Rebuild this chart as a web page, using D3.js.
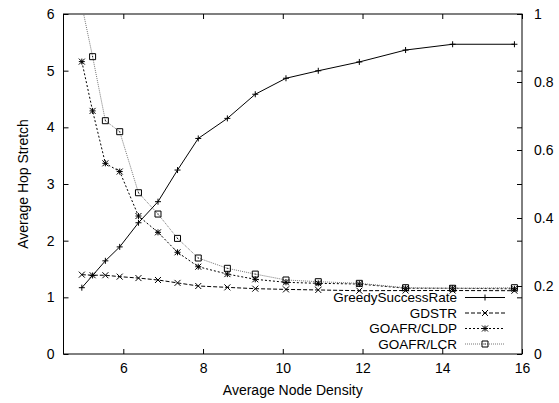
<!DOCTYPE html>
<html>
<head>
<meta charset="utf-8">
<script src="https://cdn.jsdelivr.net/npm/d3@7"></script>
<style>
  body { margin: 0; background: #fff; }
  text { font-family: "Liberation Sans", Arial, sans-serif; font-size: 14px; fill: #000; }
  #legend text { font-size: 13.5px; }
</style>
</head>
<body>
<script>
// node density on the x axis, shared by all series
const density = [4.96, 5.23, 5.55, 5.91, 6.38, 6.87, 7.36, 7.88, 8.61, 9.31, 10.08, 10.89, 11.92, 13.08, 14.26, 15.81];

// right axis (0..1)
const greedySuccessRate = [0.195, 0.231, 0.274, 0.315, 0.386, 0.448, 0.541, 0.634, 0.693, 0.764, 0.811, 0.833, 0.859, 0.894, 0.911, 0.911];

// left axis (hop stretch)
const gdstr = [1.40, 1.39, 1.39, 1.365, 1.34, 1.306, 1.255, 1.20, 1.176, 1.153, 1.14, 1.13, 1.117, 1.12, 1.12, 1.117];
const goafrCldp = [5.16, 4.29, 3.365, 3.22, 2.435, 2.147, 1.795, 1.54, 1.41, 1.318, 1.265, 1.247, 1.235, 1.16, 1.16, 1.15];
const goafrLcr = [6.15, 5.247, 4.117, 3.923, 2.846, 2.47, 2.04, 1.694, 1.512, 1.41, 1.306, 1.276, 1.247, 1.17, 1.16, 1.17];

const xTicks = [6, 8, 10, 12, 14, 16];
const yTicks = [0, 1, 2, 3, 4, 5, 6];
const y2Ticks = [0, 0.2, 0.4, 0.6, 0.8, 1];

const width = 559, height = 403;
const plotL = 63.5, plotR = 522, plotT = 14, plotB = 354;

const x = d3.scaleLinear().domain([4.5, 16]).range([plotL, plotR]);
const y = d3.scaleLinear().domain([0, 6]).range([plotB, plotT]);
const y2 = d3.scaleLinear().domain([0, 1]).range([plotB, plotT]);

const svg = d3.select("body").append("svg")
  .attr("width", width)
  .attr("height", height);

svg.append("defs").append("clipPath").attr("id", "plotclip")
  .append("rect")
  .attr("x", plotL).attr("y", plotT)
  .attr("width", plotR - plotL).attr("height", plotB - plotT);

function tidy(g) {
  g.select(".domain").remove();
  g.selectAll(".tick line").attr("stroke", "#000");
  g.selectAll("text").attr("font-family", null).attr("font-size", null);
}

// bottom axis with labels, ticks pointing inward
svg.append("g")
  .attr("transform", `translate(0,${plotB})`)
  .call(d3.axisBottom(x).tickValues(xTicks).tickSize(-5).tickPadding(9).tickFormat(d3.format("d")))
  .call(tidy);
// mirrored top ticks
svg.append("g")
  .attr("transform", `translate(0,${plotT})`)
  .call(d3.axisTop(x).tickValues(xTicks).tickSize(-5).tickFormat(""))
  .call(tidy);
// left axis
svg.append("g")
  .attr("transform", `translate(${plotL},0)`)
  .call(d3.axisLeft(y).tickValues(yTicks).tickSize(-5).tickPadding(9).tickFormat(d3.format("d")))
  .call(tidy);
// mirrored left ticks on right border
svg.append("g")
  .attr("transform", `translate(${plotR},0)`)
  .call(d3.axisRight(y).tickValues(yTicks).tickSize(-5).tickFormat(""))
  .call(tidy);
// right (y2) axis
svg.append("g")
  .attr("transform", `translate(${plotR},0)`)
  .call(d3.axisRight(y2).tickValues(y2Ticks).tickSize(-5).tickPadding(12).tickFormat(d => d === 0 || d === 1 ? d3.format("d")(d) : d3.format(".1f")(d)))
  .call(tidy);

// frame
svg.append("rect")
  .attr("x", plotL).attr("y", plotT)
  .attr("width", plotR - plotL).attr("height", plotB - plotT)
  .attr("fill", "none").attr("stroke", "#000").attr("stroke-width", 1);

// axis titles
svg.append("text")
  .attr("x", (plotL + plotR) / 2).attr("y", 395)
  .attr("text-anchor", "middle")
  .text("Average Node Density");
svg.append("text")
  .attr("transform", `translate(28,${(plotT + plotB) / 2}) rotate(-90)`)
  .attr("text-anchor", "middle")
  .text("Average Hop Stretch");

// marker shapes
function marker(g, type, cx, cy) {
  const s = 3;
  const p = (d) => g.append("path").attr("d", d).attr("stroke", "#000").attr("stroke-width", 1).attr("fill", "none");
  if (type === "plus" || type === "star") p(`M${cx - s},${cy}H${cx + s}M${cx},${cy - s}V${cy + s}`);
  if (type === "cross" || type === "star") p(`M${cx - s},${cy - s}L${cx + s},${cy + s}M${cx - s},${cy + s}L${cx + s},${cy - s}`);
  if (type === "square") {
    p(`M${cx - s},${cy - s}H${cx + s}V${cy + s}H${cx - s}Z`);
    g.append("rect").attr("x", cx - 0.5).attr("y", cy - 0.5).attr("width", 1).attr("height", 1).attr("fill", "#000");
  }
}

const series = [
  { name: "GreedySuccessRate", values: greedySuccessRate, scale: y2, dash: null, color: "#000", type: "plus" },
  { name: "GDSTR", values: gdstr, scale: y, dash: "4,2", color: "#000", type: "cross" },
  { name: "GOAFR/CLDP", values: goafrCldp, scale: y, dash: "2,2", color: "#000", type: "star" },
  { name: "GOAFR/LCR", values: goafrLcr, scale: y, dash: "1,1", color: "#777", type: "square" }
];

const plot = svg.append("g").attr("clip-path", "url(#plotclip)");

series.forEach(s => {
  const line = d3.line()
    .x((d, i) => x(density[i]))
    .y(d => s.scale(d));
  plot.append("path")
    .datum(s.values)
    .attr("d", line)
    .attr("fill", "none")
    .attr("stroke", s.color)
    .attr("stroke-width", 1)
    .attr("stroke-dasharray", s.dash);
  const mg = plot.append("g");
  s.values.forEach((v, i) => marker(mg, s.type, x(density[i]), s.scale(v)));
});

// legend
const legend = svg.append("g").attr("id", "legend");
series.forEach((s, i) => {
  const ly = 297.5 + i * 15.5;
  legend.append("text")
    .attr("x", 457).attr("y", ly)
    .attr("dy", "0.35em")
    .attr("text-anchor", "end")
    .text(s.name);
  legend.append("line")
    .attr("x1", 465).attr("x2", 505)
    .attr("y1", ly).attr("y2", ly)
    .attr("stroke", s.color)
    .attr("stroke-width", 1)
    .attr("stroke-dasharray", s.dash);
  marker(legend, s.type, 485, ly);
});
</script>
</body>
</html>
